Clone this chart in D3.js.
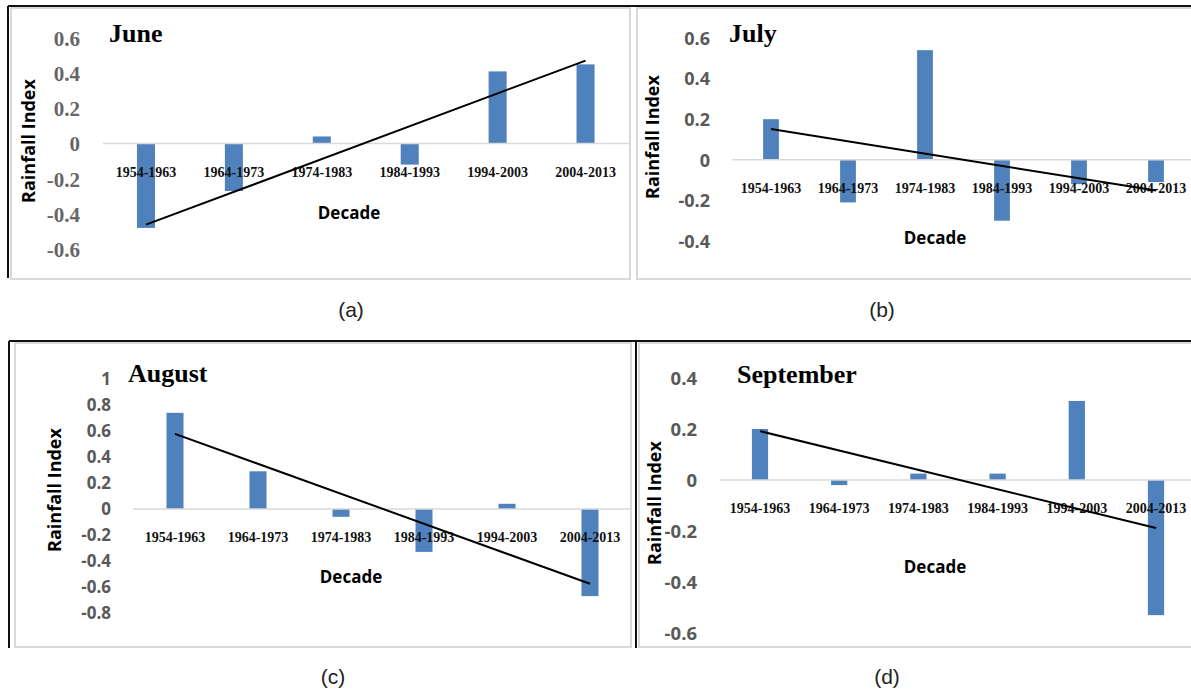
<!DOCTYPE html>
<html>
<head>
<meta charset="utf-8">
<script src="https://cdn.jsdelivr.net/npm/d3@7"></script>
<style>
  body { margin: 0; background: #fff; }
  svg { display: block; }
</style>
</head>
<body>
<svg id="fig" width="1191" height="693"></svg>
<script>
// Decadal rainfall index for the monsoon months, with a linear trend per month
const decades = ["1954-1963", "1964-1973", "1974-1983", "1984-1993", "1994-2003", "2004-2013"];

const juneIndex      = [-0.48, -0.27, 0.04, -0.12, 0.41, 0.45];
const julyIndex      = [0.20, -0.21, 0.54, -0.30, -0.12, -0.11];
const augustIndex    = [0.74, 0.29, -0.06, -0.33, 0.04, -0.67];
const septemberIndex = [0.20, -0.02, 0.025, 0.025, 0.31, -0.53];

const juneTicks      = [-0.6, -0.4, -0.2, 0, 0.2, 0.4, 0.6];
const julyTicks      = [-0.4, -0.2, 0, 0.2, 0.4, 0.6];
const augustTicks    = [-0.8, -0.6, -0.4, -0.2, 0, 0.2, 0.4, 0.6, 0.8, 1];
const septemberTicks = [-0.6, -0.4, -0.2, 0, 0.2, 0.4];

const monthNames   = ["June", "July", "August", "September"];
const panelLetters = ["(a)", "(b)", "(c)", "(d)"];
const xTitle = "Decade";
const yTitle = "Rainfall Index";

const SERIF = "'Liberation Serif', 'Times New Roman', serif";
const SANS  = "'Open Sans', 'Noto Sans', sans-serif";
const BAR   = "#4f81bd";
const GRID  = "#d9d9d9";
const TICK  = "#595959";

const svg = d3.select("#fig");
svg.append("rect").attr("width", 1191).attr("height", 693).attr("fill", "#fff");

// Panel borders: light grey chart areas with black rules on the outside
const frames = svg.append("g");
[[11, 8, 619, 271], [637, 8, 600, 271], [15, 343, 616, 304], [639, 343, 600, 304]].forEach(([x, y, w, h]) => {
  frames.append("rect").attr("x", x).attr("y", y).attr("width", w).attr("height", h)
    .attr("fill", "none").attr("stroke", GRID).attr("stroke-width", 2);
});
[[8, 6, 1191, 6], [8, 6, 8, 278], [9, 341, 1191, 341], [9, 341, 9, 648], [636, 342, 636, 648]].forEach(([x1, y1, x2, y2]) => {
  frames.append("line").attr("x1", x1).attr("y1", y1).attr("x2", x2).attr("y2", y2)
    .attr("stroke", "#111").attr("stroke-width", 2);
});

const panels = [
  { values: juneIndex, ticks: juneTicks, tickFont: SERIF, tickSize: 21, tickFill: "#666",
    xr: [102, 629.5], yr: [249, 38], tickRight: 80, title: [109, 42],
    decade: [349, 213], ylab: [29, 141], zero: [103, 629], letter: [351, 310] },
  { values: julyIndex, ticks: julyTicks, tickFont: SANS, tickSize: 18, tickFill: TICK,
    xr: [732.5, 1194.5], yr: [241, 38], tickRight: 710, title: [729, 42],
    decade: [935, 238], ylab: [653, 137], zero: [732, 1191], letter: [882, 310] },
  { values: augustIndex, ticks: augustTicks, tickFont: SANS, tickSize: 17, tickFill: TICK,
    xr: [133.5, 631.5], yr: [613, 379], tickRight: 111, title: [128, 382],
    decade: [351, 577], ylab: [55, 490], zero: [133, 631], letter: [333, 677] },
  { values: septemberIndex, ticks: septemberTicks, tickFont: SANS, tickSize: 18.5, tickFill: TICK,
    xr: [720.4, 1195.6], yr: [633, 378], tickRight: 697, title: [737, 383],
    decade: [935, 567], ylab: [655, 503], zero: [720, 1191], letter: [887, 677] }
];

// Ordinary least-squares fit over the decade index 1..n
function linearFit(vals) {
  const xs = vals.map((_, i) => i + 1);
  const mx = d3.mean(xs), my = d3.mean(vals);
  let sxy = 0, sxx = 0;
  xs.forEach((x, i) => { sxy += (x - mx) * (vals[i] - my); sxx += (x - mx) * (x - mx); });
  const b = sxy / sxx, a = my - b * mx;
  return x => a + b * x;
}

panels.forEach((p, k) => {
  const g = svg.append("g");
  const x = d3.scaleBand().domain(decades).range(p.xr).padding(0);
  const y = d3.scaleLinear().domain(d3.extent(p.ticks)).range(p.yr);
  const barW = x.bandwidth() * 0.205;

  // bars
  g.selectAll("rect.bar").data(p.values).join("rect")
    .attr("class", "bar")
    .attr("x", (d, i) => x(decades[i]) + (x.bandwidth() - barW) / 2)
    .attr("y", d => y(Math.max(0, d)))
    .attr("width", barW)
    .attr("height", d => Math.abs(y(d) - y(0)))
    .attr("fill", BAR);

  // zero line
  g.append("line")
    .attr("x1", p.zero[0]).attr("x2", p.zero[1])
    .attr("y1", y(0)).attr("y2", y(0))
    .attr("stroke", GRID).attr("stroke-width", 1.6);

  // value axis
  const ya = g.append("g").attr("transform", `translate(${p.tickRight},0)`)
    .attr("font-family", p.tickFont)
    .call(d3.axisLeft(y).tickValues(p.ticks).tickSize(0).tickPadding(0)
      .tickFormat(d => String(+d.toFixed(1))));
  ya.attr("font-family", p.tickFont).attr("font-size", p.tickSize);
  ya.select(".domain").remove();
  ya.selectAll("text")
    .style("font-family", p.tickFont).style("font-size", p.tickSize + "px")
    .attr("font-weight", "bold").attr("fill", p.tickFill).attr("dy", "0.35em");

  // decade labels just under the zero line
  const xa = g.append("g").attr("transform", `translate(0,${y(0) + 28.5})`)
    .call(d3.axisBottom(x).tickSize(0).tickPadding(0));
  xa.select(".domain").remove();
  xa.selectAll("text")
    .attr("font-family", SERIF).attr("font-size", 14).attr("font-weight", "bold")
    .attr("fill", "#111").attr("y", 0).attr("dy", "0.35em");

  // trend line
  const fit = linearFit(p.values);
  const cx = i => x(decades[i]) + x.bandwidth() / 2;
  const last = p.values.length - 1;
  g.append("line")
    .attr("x1", cx(0)).attr("y1", y(fit(1)))
    .attr("x2", cx(last)).attr("y2", y(fit(last + 1)))
    .attr("stroke", "#000").attr("stroke-width", 2);

  // month title
  g.append("text").attr("x", p.title[0]).attr("y", p.title[1])
    .attr("font-family", SERIF).attr("font-size", 26).attr("font-weight", "bold")
    .attr("fill", "#000").text(monthNames[k]);

  // axis titles
  g.append("text").attr("x", p.decade[0]).attr("y", p.decade[1])
    .attr("text-anchor", "middle").attr("dy", "0.35em")
    .attr("font-family", SANS).attr("font-size", 17).attr("font-weight", "bold")
    .attr("fill", "#000").text(xTitle);
  g.append("text")
    .attr("transform", `translate(${p.ylab[0]},${p.ylab[1]}) rotate(-90)`)
    .attr("text-anchor", "middle").attr("dy", "0.35em")
    .attr("font-family", SANS).attr("font-size", 18).attr("font-weight", "bold")
    .attr("fill", "#000").text(yTitle);

  // panel letter
  svg.append("text").attr("x", p.letter[0]).attr("y", p.letter[1])
    .attr("text-anchor", "middle").attr("dy", "0.35em")
    .attr("font-family", "'Liberation Sans', Arial, sans-serif").attr("font-size", 21)
    .attr("fill", "#222").text(panelLetters[k]);
});
</script>
</body>
</html>
